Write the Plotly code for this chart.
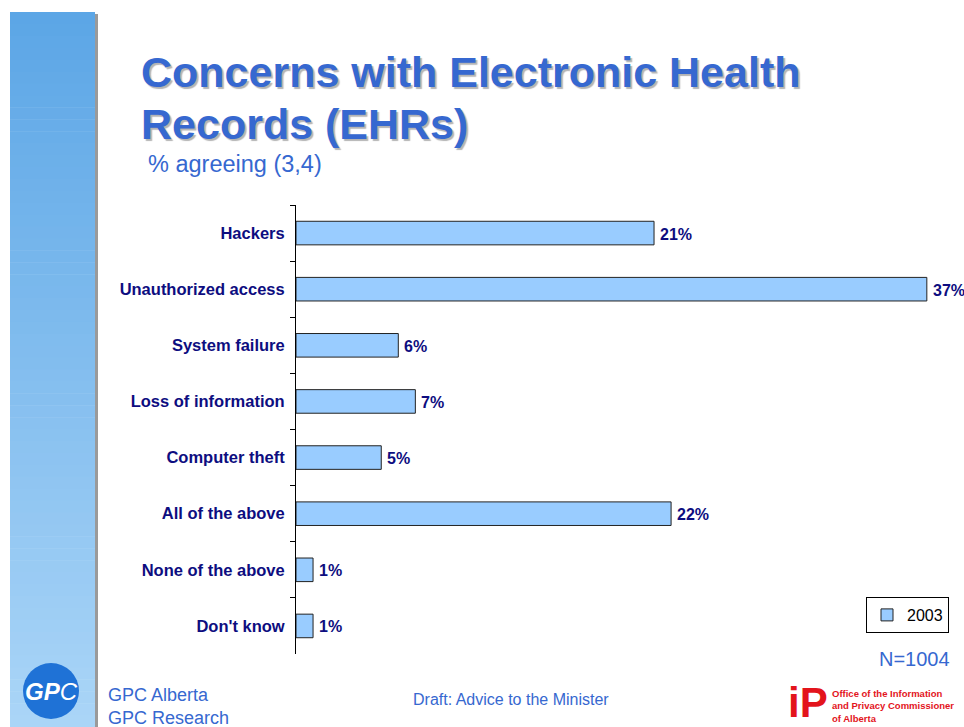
import plotly.graph_objects as go

categories = ["Hackers", "Unauthorized access", "System failure", "Loss of information",
              "Computer theft", "All of the above", "None of the above", "Don't know"]
values_2003 = [21, 37, 6, 7, 5, 22, 1, 1]
series_name = "2003"
title_lines = ["Concerns with Electronic Health", "Records (EHRs)"]
subtitle = "% agreeing (3,4)"

W, H = 964, 727
def px(x):
    return x / W
def py(y):
    return 1 - y / H

BLUE = "#3668d0"
FONT = "Liberation Sans, Arial"
labels = [f"{v}%" for v in values_2003]

fig = go.Figure()
fig.add_trace(go.Bar(
    y=categories, x=values_2003, orientation="h", name=series_name,
    marker=dict(color="#99ccff", line=dict(color="#222222", width=1)),
    showlegend=True,
))

shapes = []
# sidebar gradient
top, bot = 12, 727
n = 60
c1 = (0x5c, 0xa6, 0xe6)
c2 = (0xaa, 0xd5, 0xf7)
for i in range(n):
    t = i / (n - 1)
    c = tuple(int(round(c1[k] + (c2[k] - c1[k]) * t)) for k in range(3))
    y0 = top + (bot - top) * i / n
    y1 = top + (bot - top) * (i + 1) / n + 0.5
    shapes.append(dict(type="rect", xref="paper", yref="paper",
                       x0=px(10), x1=px(95), y0=py(y0), y1=py(y1),
                       fillcolor="rgb(%d,%d,%d)" % c, line=dict(width=0), layer="below"))
# sidebar shadow
shapes.append(dict(type="rect", xref="paper", yref="paper", x0=px(95), x1=px(98),
                   y0=py(727), y1=py(14), fillcolor="#9a9a9a", line=dict(width=0), layer="below"))
# GPC logo circle
shapes.append(dict(type="circle", xref="paper", yref="paper",
                   x0=px(23), x1=px(79), y0=py(719), y1=py(663),
                   fillcolor="#1f72d6", line=dict(width=0)))

ann = []
# value labels next to the bars
for cat, v, lab in zip(categories, values_2003, labels):
    ann.append(dict(text=lab, x=v, y=cat, xref="x", yref="y", xanchor="left", yanchor="middle",
                    xshift=4, yshift=-1, showarrow=False,
                    font=dict(family=FONT, size=16, color="#0d0d80", weight="bold")))

title_font = dict(family=FONT, size=43, weight="bold", color=BLUE, shadow="2px 2px 1px #b4b4b4")
for i, line in enumerate(title_lines):
    yy = 72 + i * 52
    ann.append(dict(text=line, xref="paper", yref="paper", x=px(139), y=py(yy),
                    xanchor="left", yanchor="middle", showarrow=False, font=title_font))
ann.append(dict(text=subtitle, xref="paper", yref="paper", x=px(146), y=py(164),
                xanchor="left", yanchor="middle", showarrow=False,
                font=dict(family=FONT, size=23.5, color=BLUE)))
ann.append(dict(text="N=1004", xref="paper", yref="paper", x=px(952), y=py(659),
                xanchor="right", yanchor="middle", showarrow=False,
                font=dict(family=FONT, size=20, color=BLUE)))
ann.append(dict(text="GPC Alberta<br>GPC Research", xref="paper", yref="paper", x=px(106), y=py(706),
                xanchor="left", yanchor="middle", showarrow=False, align="left",
                font=dict(family=FONT, size=18, color=BLUE)))
ann.append(dict(text="Draft: Advice to the Minister", xref="paper", yref="paper", x=px(511), y=py(699),
                xanchor="center", yanchor="middle", showarrow=False,
                font=dict(family=FONT, size=16, color=BLUE)))
ann.append(dict(text="<b><i>GP</i></b><i>C</i>", xref="paper", yref="paper", x=px(51), y=py(691),
                xanchor="center", yanchor="middle", showarrow=False,
                font=dict(family=FONT, size=24, color="white")))
ann.append(dict(text="<b>iP</b>", xref="paper", yref="paper", x=px(808), y=py(702),
                xanchor="center", yanchor="middle", showarrow=False,
                font=dict(family=FONT, size=42, color="#e3141c")))
ann.append(dict(text="<b>Office of the Information<br>and Privacy Commissioner<br>of Alberta</b>",
                xref="paper", yref="paper", x=px(830), y=py(706),
                xanchor="left", yanchor="middle", showarrow=False, align="left",
                font=dict(family=FONT, size=9.5, color="#e3141c")))

fig.update_layout(
    width=W, height=H, margin=dict(l=0, r=0, t=0, b=0),
    paper_bgcolor="white", plot_bgcolor="white",
    bargap=0.58,
    shapes=shapes, annotations=ann,
    xaxis=dict(domain=[px(296), 1], range=[0, 39.18], visible=False, fixedrange=True),
    yaxis=dict(domain=[py(654), py(205)], autorange="reversed", type="category",
               showline=True, linecolor="black", linewidth=1,
               ticks="outside", ticklen=5, tickcolor="black", tickson="boundaries",
               ticklabelstandoff=7,
               tickfont=dict(family=FONT, size=16.5, color="#0d0d80", weight="bold"),
               showgrid=False, zeroline=False),
    legend=dict(x=px(866), y=py(597), xanchor="left", yanchor="top",
                bordercolor="black", borderwidth=1, bgcolor="white",
                font=dict(family=FONT, size=16, color="black"),
                itemwidth=30, tracegroupgap=0),
    showlegend=True,
)
fig.write_html("out.html")
